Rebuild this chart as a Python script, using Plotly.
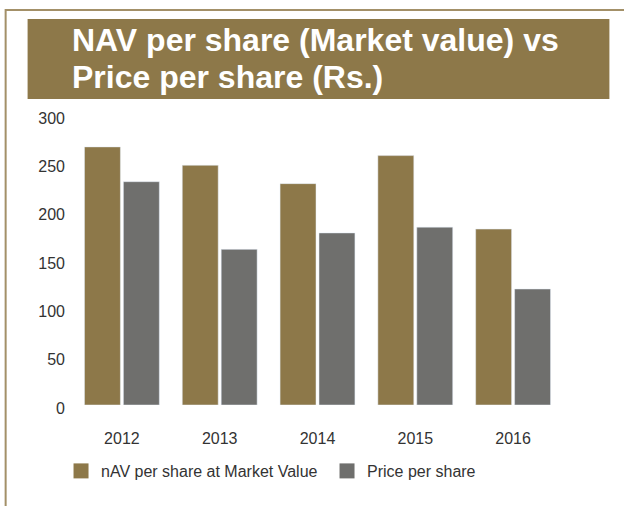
import plotly.graph_objects as go

years = ["2012", "2013", "2014", "2015", "2016"]
nav_values = [267, 248, 229, 258, 182]
price_values = [231, 161, 178, 184, 120]
y_ticks = [0, 50, 100, 150, 200, 250, 300]

BROWN = "#8D7849"
GRAY = "#6F6F6D"
FRAME = "#A39068"
FONT = "Liberation Sans, Arial, Helvetica, sans-serif"
TXT = "#333333"
FS = 16

fig = go.Figure()
fig.add_trace(go.Bar(x=years, y=nav_values, marker_color=BROWN, showlegend=False,
                     name="nAV per share at Market Value"))
fig.add_trace(go.Bar(x=years, y=price_values, marker_color=GRAY, showlegend=False,
                     name="Price per share"))
# legend entries (square swatches)
fig.add_trace(go.Scatter(x=[None], y=[None], mode="markers",
                         marker=dict(symbol="square", size=15, color=BROWN),
                         name="nAV per share at Market Value"))
fig.add_trace(go.Scatter(x=[None], y=[None], mode="markers",
                         marker=dict(symbol="square", size=15, color=GRAY),
                         name="Price per share"))

W, H = 624, 506
L, R, T, B = 72.5, 61.5, 115, 101
pw, ph = W - L - R, H - T - B

def px(x):
    return (x - L) / pw

def py(y):
    return (H - B - y) / ph

shapes = [
    # frame
    dict(type="rect", xref="paper", yref="paper",
         x0=px(5), x1=px(640), y0=py(10), y1=py(520),
         line=dict(color=FRAME, width=2), fillcolor="rgba(0,0,0,0)", layer="below"),
    # banner
    dict(type="rect", xref="paper", yref="paper",
         x0=px(27), x1=px(610), y0=py(99), y1=py(19),
         line=dict(width=0), fillcolor=BROWN, layer="below"),
]

annotations = [
    dict(text="<b>NAV per share (Market value) vs</b>", xref="paper", yref="paper",
         x=px(69), y=py(40), xanchor="left", yanchor="middle", showarrow=False,
         font=dict(family=FONT, size=32, color="white")),
    dict(text="<b>Price per share (Rs.)</b>", xref="paper", yref="paper",
         x=px(69), y=py(76.5), xanchor="left", yanchor="middle", showarrow=False,
         font=dict(family=FONT, size=32, color="white")),
]

fig.update_layout(
    width=W, height=H,
    margin=dict(l=L, r=R, t=T, b=B, pad=0),
    paper_bgcolor="white", plot_bgcolor="white",
    barmode="group", bargap=0.204, bargroupgap=0.077,
    font=dict(family=FONT, size=FS, color=TXT),
    shapes=shapes, annotations=annotations,
    showlegend=True,
    legend=dict(orientation="h", x=px(60.5), y=py(471), xanchor="left", yanchor="middle",
                font=dict(family=FONT, size=FS, color=TXT), bgcolor="rgba(0,0,0,0)",
                entrywidth=221, entrywidthmode="pixels", itemclick=False),
    xaxis=dict(type="category", categoryorder="array", categoryarray=years,
               showgrid=False, showline=False, zeroline=False, ticks="",
               ticklabelstandoff=22, tickfont=dict(size=FS, color=TXT)),
    yaxis=dict(range=[0, 300], tickvals=y_ticks, showgrid=False, showline=False,
               zeroline=False, ticks="", ticklabelstandoff=7, ticklabelshift=3,
               tickfont=dict(size=FS, color=TXT)),
)

fig.write_html("out.html", config={"displayModeBar": False},
               post_script="document.body.style.margin='0';document.body.style.padding='0';")
